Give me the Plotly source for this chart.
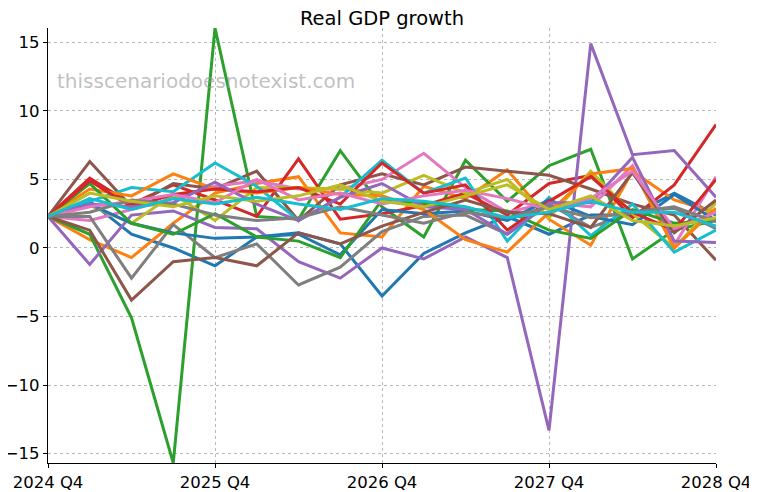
import plotly.graph_objects as go

quarters = list(range(17))
tick_positions = [0, 4, 8, 12, 16]
tick_labels = ["2024 Q4", "2025 Q4", "2026 Q4", "2027 Q4", "2028 Q4"]

blue1 = [2.3, 3.4, 1.0, 0.0, -1.3, 0.8, 1.1, 0.3, -3.5, -0.4, 1.1, 2.3, 1.0, 2.4, 2.4, 4.0, 2.4]
orange1 = [2.3, 0.6, -0.7, 1.8, 4.0, 4.7, 5.2, 1.1, 0.8, 4.5, 3.6, 5.7, 2.1, 0.2, 5.6, 3.5, 2.6]
green1 = [2.3, 1.0, -5.1, -15.68, 16.04, 2.3, 2.1, 7.1, 3.0, 0.8, 6.4, 3.4, 6.0, 7.2, -0.8, 1.3, 2.0]
red1 = [2.3, 5.1, 3.2, 4.6, 3.5, 2.3, 6.5, 2.1, 2.5, 3.1, 4.0, 2.4, 4.7, 5.3, 2.2, 4.6, 9.0]
purple1 = [2.3, -1.2, 2.4, 2.7, 1.5, 1.4, -1.0, -2.2, 0.0, -0.8, 0.8, -0.7, -13.3, 14.9, 6.8, 7.1, 3.7]
brown1 = [2.3, 6.3, 3.0, 4.7, 4.3, 5.6, 2.0, 4.6, 5.4, 4.6, 5.9, 5.6, 5.3, 4.3, 3.2, 2.4, -0.9]
pink1 = [2.3, 2.0, 2.8, 3.6, 4.5, 4.9, 4.3, 4.3, 5.0, 6.9, 4.4, 2.6, 3.3, 3.0, 6.0, 0.2, 5.2]
gray1 = [2.3, 2.3, -2.2, 1.7, -0.7, 0.3, -2.7, -1.4, 1.2, 2.3, 2.4, 1.0, 3.2, 1.5, 2.6, 2.9, 1.4]
olive1 = [2.3, 3.1, 1.8, 3.9, 2.0, 4.4, 4.4, 4.3, 4.0, 5.3, 4.0, 5.0, 2.2, 5.6, 2.5, 0.0, 3.3]
cyan1 = [2.3, 3.4, 4.4, 4.1, 6.2, 4.5, 2.0, 3.7, 6.4, 4.0, 5.1, 0.5, 3.7, 0.9, 3.2, -0.3, 1.3]

blue2 = [2.3, 3.2, 1.8, 1.1, 0.7, 0.8, 1.0, -0.5, 2.8, 2.5, 2.7, 2.0, 3.5, 2.3, 1.7, 3.9, 2.0]
orange2 = [2.3, 4.3, 3.8, 5.4, 4.3, 4.0, 4.4, 3.9, 3.8, 2.8, 0.6, -0.3, 2.6, 5.4, 5.8, 0.0, 2.9]
green2 = [2.3, 4.7, 1.8, 1.0, 2.5, 0.8, 0.5, -0.7, 3.5, 3.3, 2.8, 2.7, 1.3, 0.7, 2.8, 1.8, 2.0]
red2 = [2.3, 4.9, 3.0, 3.9, 4.3, 4.1, 4.4, 3.2, 6.2, 4.0, 4.6, 1.3, 3.4, 5.2, 2.6, 1.3, 5.0]
purple2 = [2.3, 3.2, 3.0, 3.3, 4.8, 3.2, 2.0, 3.7, 4.7, 3.0, 2.8, 1.0, 3.3, 3.3, 6.6, 0.5, 0.4]
brown2 = [2.3, 1.3, -3.8, -1.0, -0.7, -1.3, 1.1, 0.3, 1.6, 2.6, 3.5, 2.6, 2.5, 1.5, 5.5, 1.1, 3.5]
pink2 = [2.3, 3.0, 3.4, 3.9, 3.3, 5.0, 3.5, 4.0, 3.2, 3.8, 4.2, 3.6, 2.8, 3.6, 5.6, 1.4, 2.6]
gray2 = [2.3, 2.6, 3.5, 3.2, 2.4, 2.0, 2.2, 3.0, 2.4, 1.8, 2.6, 2.2, 3.0, 2.2, 2.6, 3.0, 1.9]
olive2 = [2.3, 4.0, 3.4, 3.0, 3.8, 3.4, 3.8, 4.6, 3.4, 3.0, 3.8, 4.6, 2.8, 3.8, 2.0, 1.6, 2.2]
cyan2 = [2.3, 3.6, 2.8, 3.6, 3.2, 3.7, 3.2, 2.8, 3.6, 3.4, 3.0, 2.2, 2.6, 3.4, 2.6, 2.6, 1.6]

series = [blue1, orange1, green1, red1, purple1, brown1, pink1, gray1, olive1, cyan1,
          blue2, orange2, green2, red2, purple2, brown2, pink2, gray2, olive2, cyan2]
colors = ["#1f77b4", "#ff7f0e", "#2ca02c", "#d62728", "#9467bd",
          "#8c564b", "#e377c2", "#7f7f7f", "#bcbd22", "#17becf"]

fig = go.Figure()
for k, s in enumerate(series):
    fig.add_trace(go.Scatter(x=quarters, y=s, mode="lines",
                             line=dict(color=colors[k % 10], width=3),
                             showlegend=False, hoverinfo="skip"))

# page body has an 8px margin, so the figure is sized/offset to compensate
W, H = 749, 484
fig.update_layout(
    width=W, height=H,
    margin=dict(l=40, r=41, t=20, b=29),
    paper_bgcolor="white", plot_bgcolor="white",
    font=dict(family="DejaVu Sans", size=16.5, color="black"),
    title=dict(text="Real GDP growth", x=0.5, xref="paper", xanchor="center",
               yref="container", y=1 - 10 / H, yanchor="middle", font=dict(size=19.5)),
    annotations=[dict(text="thisscenariodoesnotexist.com", xref="paper", yref="paper",
                      x=0.0105, y=0.878, xanchor="left", yanchor="middle",
                      showarrow=False, font=dict(size=20, color="rgba(150,150,150,0.6)"))],
)
fig.update_xaxes(range=[0, 16], tickvals=tick_positions, ticktext=tick_labels,
                 automargin=False,
                 showline=True, linecolor="black", linewidth=1.2,
                 ticks="outside", ticklen=4, tickcolor="black",
                 showgrid=True, gridcolor="#b8b8b8", griddash="dot", gridwidth=0.8,
                 zeroline=False, mirror=False)
fig.update_yaxes(range=[-15.68, 16.04], tickvals=[-15, -10, -5, 0, 5, 10, 15],
                 automargin=False,
                 showline=True, linecolor="black", linewidth=1.2,
                 ticks="outside", ticklen=4, tickcolor="black",
                 showgrid=True, gridcolor="#b8b8b8", griddash="dot", gridwidth=0.8,
                 zeroline=False, mirror=False)

fig.write_html("out.html")
